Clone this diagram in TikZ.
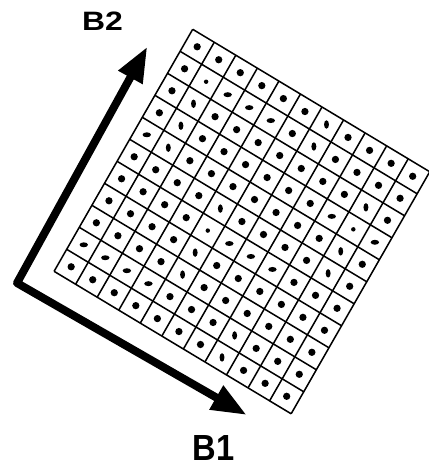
\documentclass[tikz,border=0pt]{standalone}
\usepackage{fontspec}
\setmainfont{Liberation Sans}
\usetikzlibrary{arrows.meta, shapes.geometric}

\begin{document}
\begin{tikzpicture}[
        x=0.03cm, y=-0.03cm,
        basis/.style={line width=6.8pt, line join=round,
            {Triangle[length=30pt, width=22pt]}-{Triangle[length=30pt, width=22pt]}},
        axislabel/.style={inner sep=0pt, font=\bfseries},
        gridline/.style={line width=1.3pt},
        cellmark/.style={fill, draw=none, inner sep=0pt},
        dotr/.style={cellmark, circle, minimum size=6.2pt},
        dots/.style={cellmark, circle, minimum size=3.8pt},
        dotf/.style={cellmark, ellipse, minimum width=7.2pt, minimum height=4.2pt},
        dott/.style={cellmark, ellipse, minimum width=4.2pt, minimum height=7.2pt}
    ]
    \useasboundingbox (0,0) rectangle (429,466);

    % Define basis vectors
    \coordinate (origin) at (17,283);
    \coordinate (b1tip) at (246.7,415);
    \coordinate (b2tip) at (147.3,46.7);
    \draw[basis] (b2tip) -- (origin) -- (b1tip);

    % Labels
    \node[axislabel, font=\bfseries\fontsize{22.7}{26}\selectfont, xscale=1.2] (b2label) at (102.5,21.5) {B2};
    \node[axislabel, font=\bfseries\fontsize{31}{36}\selectfont, xscale=0.9] (b1label) at (213.5,448) {B1};

    % Sampling lattice
    \begin{scope}[shift={(192.7,29.3)}, x={(0.6465cm,-0.3885cm)}, y={(-0.378cm,-0.66cm)}]
        \foreach \k in {0,...,11} {
            \draw[gridline] (\k,0) -- (\k,11);
            \draw[gridline] (0,\k) -- (11,\k);
        }
        % Sample points
        \foreach \marks [count=\j from 0] in {
                {r,r,r,r,r,r,t,r,r,r,r},
                {r,s,f,f,f,r,t,r,r,r,r},
                {r,t,r,r,r,r,r,r,r,t,r},
                {r,t,r,r,r,r,r,r,f,s,f},
                {f,t,r,r,r,r,r,r,r,t,r},
                {r,r,r,r,t,r,r,r,r,t,r},
                {r,r,r,r,s,f,f,f,r,r,r},
                {r,r,r,r,t,r,r,r,r,r,r},
                {r,r,r,r,t,r,r,r,r,r,r},
                {f,f,f,f,r,r,r,t,r,r,r},
                {r,r,r,r,r,r,r,t,r,r,r}} {
            \foreach \m [count=\i from 0] in \marks {
                \node[dot\m] (c-\i-\j) at (\i+0.5,\j+0.5) {};
            }
        }
    \end{scope}

\end{tikzpicture}
\end{document}
